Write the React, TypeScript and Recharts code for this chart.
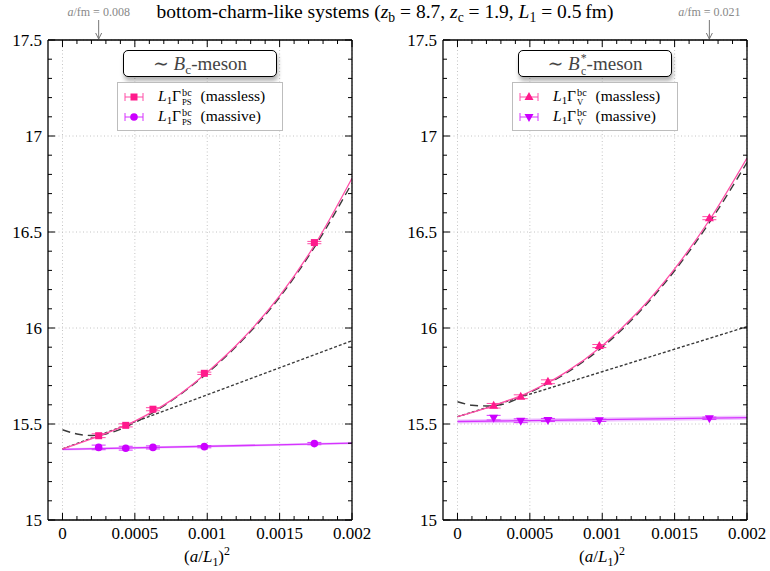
import React from "react";
import {
  ComposedChart,
  Line,
  Area,
  Scatter,
  ErrorBar,
  XAxis,
  YAxis,
  ReferenceLine,
  ReferenceDot,
} from "recharts";

const FONT =
  '"Liberation Serif", "Times New Roman", Tinos, Times, "DejaVu Serif", "Noto Serif", serif';
const PINK = "#ff1a8c";
const PINK_LINE = "#ff4da6";
const VIOLET = "#cc00ff";
const VIOLET_LINE = "#d633ff";
const VIOLET_BAND = "#eab0ff";
const DARK = "#3a3a3a";

// axes
const xMajor = [0, 0.0005, 0.001, 0.0015, 0.002];
const xTicks = [
  0, 0.0001, 0.0002, 0.0003, 0.0004, 0.0005, 0.0006, 0.0007, 0.0008, 0.0009, 0.001,
  0.0011, 0.0012, 0.0013, 0.0014, 0.0015, 0.0016, 0.0017, 0.0018, 0.0019, 0.002,
];
const yMajor = [15, 15.5, 16, 16.5, 17, 17.5];
const yTicks = [
  15, 15.1, 15.2, 15.3, 15.4, 15.5, 15.6, 15.7, 15.8, 15.9, 16, 16.1, 16.2, 16.3,
  16.4, 16.5, 16.6, 16.7, 16.8, 16.9, 17, 17.1, 17.2, 17.3, 17.4, 17.5,
];

// lattice points, x = (a/L1)^2
const latticeX = [0.00025, 0.000437, 0.000625, 0.00098, 0.00174];

const psMasslessY = [15.439, 15.493, 15.577, 15.764, 16.445];
const psMasslessErr = [0.01, 0.008, 0.008, 0.006, 0.006];
const psMassiveY = [15.378, 15.374, 15.378, 15.382, 15.398];
const psMassiveErr = [0.012, 0.01, 0.008, 0.006, 0.006];

const vMasslessY = [15.595, 15.642, 15.72, 15.906, 16.572];
const vMasslessErr = [0.012, 0.01, 0.01, 0.008, 0.008];
const vMassiveY = [15.533, 15.517, 15.521, 15.519, 15.53];
const vMassiveErr = [0.012, 0.01, 0.008, 0.006, 0.006];

// fit curves
const fitX = [0, 0.00025, 0.0005, 0.00075, 0.001, 0.00125, 0.0015, 0.00175, 0.002];
const psFitMassless = [15.37, 15.437, 15.515, 15.623, 15.77, 15.948, 16.167, 16.442, 16.78];
const vFitMassless = [15.538, 15.596, 15.668, 15.77, 15.908, 16.086, 16.308, 16.573, 16.885];

const dashX = [0, 0.0001, 0.0002, 0.0003, 0.0005, 0.00075, 0.001, 0.00125, 0.0015, 0.00175, 0.002];
const psDash = [15.47, 15.448, 15.44, 15.448, 15.508, 15.62, 15.765, 15.942, 16.16, 16.432, 16.755];
const vDash = [15.616, 15.598, 15.594, 15.6, 15.665, 15.765, 15.9, 16.078, 16.298, 16.56, 16.862];

const linX = [0, 0.002];
const psLinear = [15.37, 15.934];
const vLinear = [15.538, 16.007];
const psMassiveFit = [15.368, 15.4];
const psMassiveBand = [0.006, 0.006];
const vMassiveFit = [15.513, 15.533];
const vMassiveBand = [0.011, 0.011];

const isMajor = (v: number, majors: number[]) => majors.some((m) => Math.abs(m - v) < 1e-9);

function XTick(props: any) {
  const { x = 0, y = 0, payload, top } = props;
  const v = payload?.value ?? 0;
  const major = isMajor(v, xMajor);
  const len = major ? 7 : 4;
  return (
    <g>
      <line x1={x} x2={x} y1={y} y2={top ? y + len : y - len} stroke="#000" strokeWidth={1} />
      {!top && major && (
        <text x={x} y={y + 19} textAnchor="middle" fontSize={17} fontFamily={FONT} fill="#000">
          {String(v)}
        </text>
      )}
    </g>
  );
}

function YTick(props: any) {
  const { x = 0, y = 0, payload, right } = props;
  const v = payload?.value ?? 0;
  const major = isMajor(v, yMajor);
  const len = major ? 7 : 4;
  return (
    <g>
      <line x1={x} x2={right ? x - len : x + len} y1={y} y2={y} stroke="#000" strokeWidth={1} />
      {!right && major && (
        <text x={x - 6} y={y + 6} textAnchor="end" fontSize={17} fontFamily={FONT} fill="#000">
          {String(v)}
        </text>
      )}
    </g>
  );
}

function Marker({ cx, cy, kind, color }: { cx: number; cy: number; kind: string; color: string }) {
  if (kind === "square") return <rect x={cx - 3.5} y={cy - 3.5} width={7} height={7} fill={color} />;
  if (kind === "circle") return <circle cx={cx} cy={cy} r={3.8} fill={color} />;
  if (kind === "triUp")
    return <polygon points={`${cx},${cy - 5} ${cx - 4.5},${cy + 3} ${cx + 4.5},${cy + 3}`} fill={color} />;
  return <polygon points={`${cx},${cy + 5} ${cx - 4.5},${cy - 3} ${cx + 4.5},${cy - 3}`} fill={color} />;
}

function Arrow(props: any) {
  const { cx, cy, text } = props;
  return (
    <g>
      <text x={cx} y={cy - 24} textAnchor="middle" fontSize={12} fontFamily={FONT} fill="#888">
        <tspan fontStyle="italic">a</tspan>/fm = {text}
      </text>
      <line x1={cx} x2={cx} y1={cy - 20} y2={cy - 1} stroke="#777" strokeWidth={1} />
      <path d={`M${cx - 3},${cy - 7} L${cx},${cy - 1} L${cx + 3},${cy - 7}`} stroke="#777" fill="none" />
    </g>
  );
}

interface PanelProps {
  left: number;
  width: number;
  rightAxisW: number;
  masslessY: number[];
  masslessErr: number[];
  massiveY: number[];
  massiveErr: number[];
  fitMassless: number[];
  dash: number[];
  linear: number[];
  massiveFit: number[];
  massiveBand: number[];
  masslessShape: string;
  massiveShape: string;
  arrowX: number;
  arrowText: string;
}

function Panel(p: PanelProps) {
  const pts = (ys: number[], errs: number[]) =>
    latticeX.map((x, i) => ({ x, y: ys[i], err: errs[i] }));
  const curve = (xs: number[], ys: number[]) => xs.map((x, i) => ({ x, y: ys[i] }));
  const band = linX.map((x, i) => ({
    x,
    band: [p.massiveFit[i] - p.massiveBand[i], p.massiveFit[i] + p.massiveBand[i]],
  }));

  return (
    <div style={{ position: "absolute", left: p.left, top: 0 }}>
      <ComposedChart width={p.width} height={571} margin={{ top: 0, right: 0, bottom: 0, left: 0 }}>
        <XAxis
          xAxisId="b"
          dataKey="x"
          type="number"
          domain={[-0.0001, 0.002]}
          allowDataOverflow
          ticks={xTicks}
          interval={0}
          height={51}
          tickSize={0}
          tickMargin={0}
          tickLine={false}
          axisLine={{ stroke: "#000", strokeWidth: 1.3 }}
          tick={(t: any) => <XTick {...t} />}
        />
        <XAxis
          xAxisId="t"
          dataKey="x"
          type="number"
          orientation="top"
          domain={[-0.0001, 0.002]}
          allowDataOverflow
          ticks={xTicks}
          interval={0}
          height={40}
          tickSize={0}
          tickMargin={0}
          tickLine={false}
          axisLine={{ stroke: "#000", strokeWidth: 1.3 }}
          tick={(t: any) => <XTick {...t} top />}
        />
        <YAxis
          yAxisId="l"
          type="number"
          domain={[15, 17.5]}
          allowDataOverflow
          ticks={yTicks}
          interval={0}
          width={48}
          tickSize={0}
          tickMargin={0}
          tickLine={false}
          axisLine={{ stroke: "#000", strokeWidth: 1.3 }}
          tick={(t: any) => <YTick {...t} />}
        />
        <YAxis
          yAxisId="r"
          type="number"
          orientation="right"
          domain={[15, 17.5]}
          allowDataOverflow
          ticks={yTicks}
          interval={0}
          width={p.rightAxisW}
          tickSize={0}
          tickMargin={0}
          tickLine={false}
          axisLine={{ stroke: "#000", strokeWidth: 1.3 }}
          tick={(t: any) => <YTick {...t} right />}
        />

        {xMajor.map((v) => (
          <ReferenceLine key={"gx" + v} x={v} xAxisId="b" yAxisId="l" stroke="#c4c4c4" strokeDasharray="1 2.5" />
        ))}
        {yMajor.map((v) => (
          <ReferenceLine key={"gy" + v} y={v} xAxisId="b" yAxisId="l" stroke="#c4c4c4" strokeDasharray="1 2.5" />
        ))}

        <Area
          data={band}
          dataKey="band"
          xAxisId="b"
          yAxisId="l"
          type="linear"
          stroke="none"
          fill={VIOLET_BAND}
          fillOpacity={0.75}
          isAnimationActive={false}
        />
        <Line
          data={curve(linX, p.massiveFit)}
          dataKey="y"
          xAxisId="b"
          yAxisId="l"
          type="linear"
          stroke={VIOLET_LINE}
          strokeWidth={1.3}
          dot={false}
          isAnimationActive={false}
        />
        <Line
          data={curve(linX, p.linear)}
          dataKey="y"
          xAxisId="b"
          yAxisId="l"
          type="linear"
          stroke={DARK}
          strokeWidth={1.4}
          strokeDasharray="3 2"
          dot={false}
          isAnimationActive={false}
        />
        <Line
          data={curve(dashX, p.dash)}
          dataKey="y"
          xAxisId="b"
          yAxisId="l"
          type="monotone"
          stroke={DARK}
          strokeWidth={1.4}
          strokeDasharray="8 5"
          dot={false}
          isAnimationActive={false}
        />
        <Line
          data={curve(fitX, p.fitMassless)}
          dataKey="y"
          xAxisId="b"
          yAxisId="l"
          type="monotone"
          stroke={PINK_LINE}
          strokeWidth={1.3}
          dot={false}
          isAnimationActive={false}
        />

        <Scatter
          data={pts(p.massiveY, p.massiveErr)}
          dataKey="y"
          xAxisId="b"
          yAxisId="l"
          isAnimationActive={false}
          shape={(s: any) => <Marker cx={s.cx} cy={s.cy} kind={p.massiveShape} color={VIOLET} />}
        >
          <ErrorBar dataKey="err" direction="y" width={7} stroke={VIOLET_LINE} strokeWidth={1} isAnimationActive={false} />
        </Scatter>
        <Scatter
          data={pts(p.masslessY, p.masslessErr)}
          dataKey="y"
          xAxisId="b"
          yAxisId="l"
          isAnimationActive={false}
          shape={(s: any) => <Marker cx={s.cx} cy={s.cy} kind={p.masslessShape} color={PINK} />}
        >
          <ErrorBar dataKey="err" direction="y" width={7} stroke={PINK_LINE} strokeWidth={1} isAnimationActive={false} />
        </Scatter>

        <ReferenceDot
          x={p.arrowX}
          y={17.5}
          xAxisId="b"
          yAxisId="l"
          r={0}
          ifOverflow="visible"
          shape={(s: any) => <Arrow cx={s.cx} cy={s.cy} text={p.arrowText} />}
        />
      </ComposedChart>
    </div>
  );
}

function LegendMarker({ kind, color, bar }: { kind: string; color: string; bar: string }) {
  return (
    <svg width={22} height={14} style={{ verticalAlign: "middle" }}>
      <line x1={2} x2={20} y1={7} y2={7} stroke={bar} strokeWidth={1} />
      <line x1={2} x2={2} y1={3} y2={11} stroke={bar} strokeWidth={1} />
      <line x1={20} x2={20} y1={3} y2={11} stroke={bar} strokeWidth={1} />
      <Marker cx={11} cy={7} kind={kind} color={color} />
    </svg>
  );
}

const subStyle: React.CSSProperties = { fontSize: "0.7em", verticalAlign: "-0.3em", lineHeight: 0 };

function Gamma({ channel }: { channel: string }) {
  return (
    <span>
      <i>L</i>
      <span style={subStyle}>1</span>Γ
      <span
        style={{
          display: "inline-flex",
          flexDirection: "column",
          fontSize: "0.66em",
          lineHeight: 1,
          verticalAlign: "middle",
          marginLeft: 1,
          marginRight: 5,
        }}
      >
        <span>bc</span>
        <span style={{ fontSize: "0.85em" }}>{channel}</span>
      </span>
    </span>
  );
}

function LegendBlock(props: {
  boxLeft: number;
  legLeft: number;
  title: React.ReactNode;
  channel: string;
  masslessShape: string;
  massiveShape: string;
}) {
  return (
    <>
      <div
        style={{
          position: "absolute",
          left: props.boxLeft,
          top: 50,
          width: 152,
          height: 25,
          border: "1.5px solid #000",
          borderRadius: 5,
          boxShadow: "1px 4px 4px rgba(0,0,0,0.3)",
          background: "#fff",
          textAlign: "center",
          lineHeight: "25px",
          fontSize: 19,
          color: "#444",
          fontFamily: FONT,
        }}
      >
        {props.title}
      </div>
      <div
        style={{
          position: "absolute",
          left: props.legLeft,
          top: 82,
          width: 164,
          height: 47,
          border: "1px solid #bdbdbd",
          background: "#fff",
          fontFamily: FONT,
          fontSize: 15.5,
          color: "#000",
        }}
      >
        <div style={{ position: "absolute", left: 5, top: 4, whiteSpace: "nowrap", display: "flex", alignItems: "center" }}>
          <LegendMarker kind={props.masslessShape} color={PINK} bar={PINK_LINE} />
          <span style={{ marginLeft: 13 }}>
            <Gamma channel={props.channel} /> (massless)
          </span>
        </div>
        <div style={{ position: "absolute", left: 5, top: 24, whiteSpace: "nowrap", display: "flex", alignItems: "center" }}>
          <LegendMarker kind={props.massiveShape} color={VIOLET} bar={VIOLET_LINE} />
          <span style={{ marginLeft: 13 }}>
            <Gamma channel={props.channel} /> (massive)
          </span>
        </div>
      </div>
    </>
  );
}

function AxisLabel({ center }: { center: number }) {
  return (
    <div
      style={{
        position: "absolute",
        left: center - 60,
        width: 120,
        top: 546,
        textAlign: "center",
        fontFamily: FONT,
        fontSize: 17,
        lineHeight: "22px",
      }}
    >
      (<i>a</i>/<i>L</i>
      <span style={subStyle}>1</span>)<sup style={{ fontSize: "0.7em", lineHeight: 0 }}>2</sup>
    </div>
  );
}

export default function App() {
  return (
    <div
      style={{
        position: "absolute",
        left: 0,
        top: 0,
        width: 770,
        height: 571,
        background: "#fff",
        fontFamily: FONT,
        overflow: "hidden",
      }}
    >
      <Panel
        left={0}
        width={385}
        rightAxisW={33}
        masslessY={psMasslessY}
        masslessErr={psMasslessErr}
        massiveY={psMassiveY}
        massiveErr={psMassiveErr}
        fitMassless={psFitMassless}
        dash={psDash}
        linear={psLinear}
        massiveFit={psMassiveFit}
        massiveBand={psMassiveBand}
        masslessShape="square"
        massiveShape="circle"
        arrowX={latticeX[0]}
        arrowText="0.008"
      />
      <Panel
        left={395}
        width={375}
        rightAxisW={23}
        masslessY={vMasslessY}
        masslessErr={vMasslessErr}
        massiveY={vMassiveY}
        massiveErr={vMassiveErr}
        fitMassless={vFitMassless}
        dash={vDash}
        linear={vLinear}
        massiveFit={vMassiveFit}
        massiveBand={vMassiveBand}
        masslessShape="triUp"
        massiveShape="triDown"
        arrowX={latticeX[4]}
        arrowText="0.021"
      />

      <div
        style={{
          position: "absolute",
          left: 0,
          width: 770,
          top: 1,
          textAlign: "center",
          fontSize: 19.5,
          fontFamily: FONT,
        }}
      >
        bottom-charm-like systems (<i>z</i>
        <span style={subStyle}>b</span> = 8.7, <i>z</i>
        <span style={subStyle}>c</span> = 1.9, <i>L</i>
        <span style={subStyle}>1</span> = 0.5&thinsp;fm)
      </div>

      <LegendBlock
        boxLeft={123}
        legLeft={117}
        channel="PS"
        masslessShape="square"
        massiveShape="circle"
        title={
          <span>
            ∼ <i>B</i>
            <span style={subStyle}>c</span>-meson
          </span>
        }
      />
      <LegendBlock
        boxLeft={518}
        legLeft={512}
        channel="V"
        masslessShape="triUp"
        massiveShape="triDown"
        title={
          <span>
            ∼ <i>B</i>
            <span
              style={{
                display: "inline-flex",
                flexDirection: "column",
                fontSize: "0.62em",
                lineHeight: 1.05,
                verticalAlign: "middle",
                marginLeft: 1,
              }}
            >
              <span>*</span>
              <span>c</span>
            </span>
            -meson
          </span>
        }
      />

      <AxisLabel center={207} />
      <AxisLabel center={602} />
    </div>
  );
}
